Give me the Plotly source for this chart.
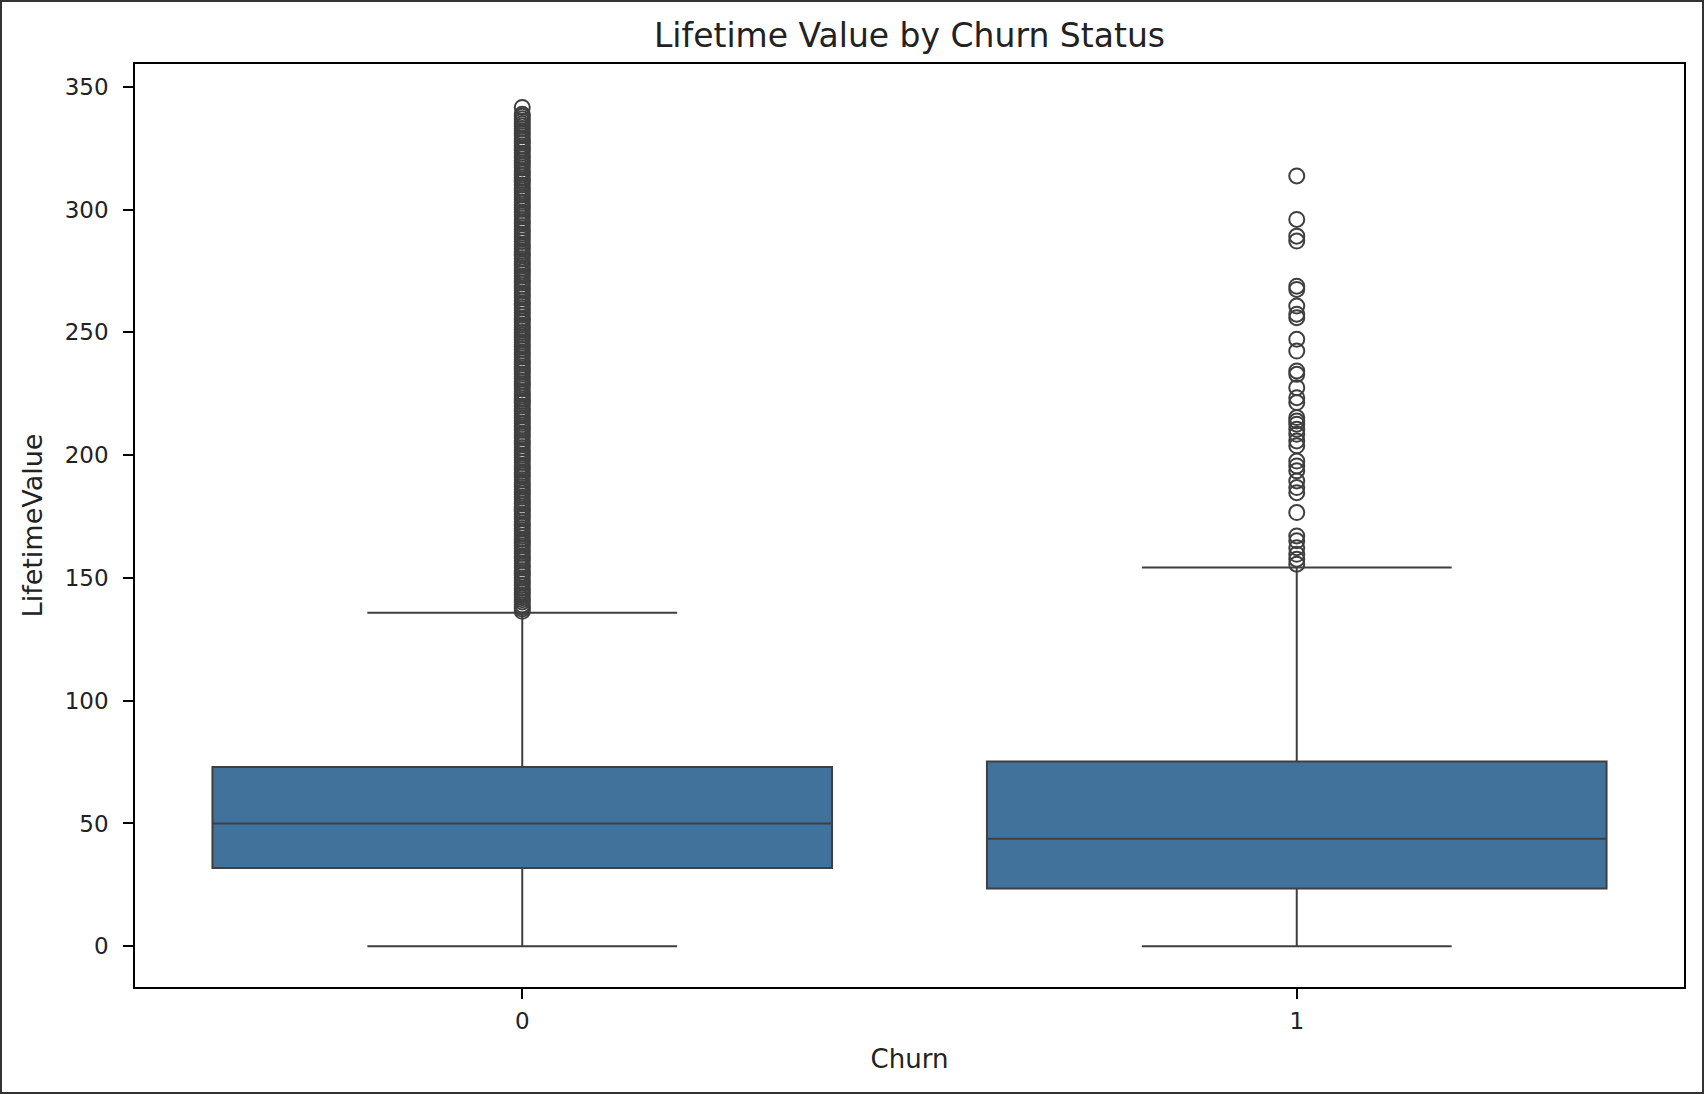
import plotly.graph_objects as go

# valeurs
churn = ["0", "1"]
q1 = [31.9, 23.5]
mediane = [50.0, 43.8]
q3 = [73.0, 75.2]
moustache_basse = [0.0, 0.0]
moustache_haute = [135.8, 154.2]

# points isolés (churn = 0 : colonne continue de 136 à 342)
outliers_0 = [136.4, 137.3, 138.1, 139.0, 140.2, 141.1, 141.9, 143.0, 144.1, 145.0,
              145.8, 147.0, 148.1, 148.9, 150.0, 151.2, 152.0, 152.9, 154.1, 155.0,
              155.9, 157.1, 158.0, 158.8, 160.0, 161.1, 162.0, 163.0, 164.1, 164.9,
              165.8, 167.0, 168.1, 169.0, 170.0, 171.1, 171.9, 173.0, 174.2, 175.0,
              175.9, 177.1, 178.0, 178.9, 180.1, 181.0, 181.9, 183.0, 184.1, 185.0,
              186.0, 187.1, 188.0, 188.9, 190.0, 191.2, 192.0, 192.9, 194.1, 195.0,
              195.8, 197.0, 198.1, 199.0, 200.0, 201.1, 201.9, 203.0, 204.2, 205.0,
              205.9, 207.1, 208.0, 208.9, 210.1, 211.0, 211.9, 213.0, 214.1, 215.0,
              216.0, 217.1, 218.0, 218.9, 220.0, 221.2, 222.0, 222.9, 224.1, 225.0,
              225.8, 227.0, 228.1, 229.0, 230.0, 231.1, 231.9, 233.0, 234.2, 235.0,
              235.9, 237.1, 238.0, 238.9, 240.1, 241.0, 241.9, 243.0, 244.1, 245.0,
              246.0, 247.1, 248.0, 248.9, 250.0, 251.2, 252.0, 252.9, 254.1, 255.0,
              255.8, 257.0, 258.1, 259.0, 260.0, 261.1, 261.9, 263.0, 264.2, 265.0,
              265.9, 267.1, 268.0, 268.9, 270.1, 271.0, 271.9, 273.0, 274.1, 275.0,
              276.0, 277.1, 278.0, 278.9, 280.0, 281.2, 282.0, 282.9, 284.1, 285.0,
              285.8, 287.0, 288.1, 289.0, 290.0, 291.1, 291.9, 293.0, 294.2, 295.0,
              295.9, 297.1, 298.0, 298.9, 300.1, 301.0, 301.9, 303.0, 304.1, 305.0,
              306.0, 307.1, 308.0, 308.9, 310.0, 311.2, 312.0, 312.9, 314.1, 315.0,
              315.8, 317.0, 318.1, 319.0, 320.0, 321.1, 321.9, 323.0, 324.2, 325.0,
              325.9, 327.1, 328.0, 328.9, 330.1, 331.0, 331.9, 333.0, 334.1, 335.0,
              336.0, 337.0, 338.0, 338.8, 341.6]
outliers_1 = [313.7, 296.0, 289.2, 287.2, 268.8, 267.5, 260.7, 257.4, 256.0, 247.2, 242.4,
              234.3, 232.9, 227.5, 223.4, 221.4, 215.3, 213.9, 212.6, 210.5, 208.5, 205.8,
              203.8, 197.6, 195.6, 193.6, 189.5, 186.8, 184.7, 176.6, 167.1, 165.1, 162.3,
              159.6, 157.6, 155.6]

couleur_boite = "#41729c"
couleur_trait = "#3f3f3f"

fig = go.Figure()

fig.add_trace(go.Box(
    x=churn, q1=q1, median=mediane, q3=q3,
    lowerfence=moustache_basse, upperfence=moustache_haute,
    width=0.8, whiskerwidth=0.5, boxpoints=False,
    fillcolor=couleur_boite, line=dict(color=couleur_trait, width=2),
    hoverinfo="skip", showlegend=False,
))

fig.add_trace(go.Scatter(
    x=["0"] * len(outliers_0) + ["1"] * len(outliers_1),
    y=outliers_0 + outliers_1,
    mode="markers",
    marker=dict(symbol="circle", size=15, color="rgba(0,0,0,0)",
                line=dict(color=couleur_trait, width=2)),
    hoverinfo="skip", showlegend=False,
))

W, H = 1704, 1094
ml, mr, mt, mb = 135, 20, 64, 107
pw, ph = W - ml - mr, H - mt - mb

axe = dict(showline=True, linecolor="black", linewidth=1.5, mirror=True,
           ticks="outside", ticklen=10, tickwidth=1.5, tickcolor="black",
           showgrid=False, zeroline=False,
           tickfont=dict(size=23, color="#222"))

fig.update_layout(
    width=W, height=H,
    margin=dict(l=ml, r=mr, t=mt, b=mb),
    paper_bgcolor="white", plot_bgcolor="white",
    font=dict(family="DejaVu Sans", color="#222"),
    title=dict(text="Lifetime Value by Churn Status", x=(ml + pw / 2) / W,
               xanchor="center", y=1 - 35 / H, yanchor="middle",
               font=dict(size=33, color="#222")),
    xaxis=dict(axe, type="category", range=[-0.5, 1.5], ticklabelstandoff=3,
               title=dict(text="Churn", font=dict(size=26), standoff=16)),
    yaxis=dict(axe, range=[-16.6, 359.3], tickvals=[0, 50, 100, 150, 200, 250, 300, 350],
               ticklabelstandoff=10,
               title=dict(text="LifetimeValue", font=dict(size=27), standoff=14)),
    shapes=[dict(type="rect", xref="paper", yref="paper",
                 x0=-ml / pw, x1=(pw + mr) / pw, y0=-mb / ph, y1=(ph + mt) / ph,
                 line=dict(color="#333", width=4), layer="above")],
)

# marge du body à zéro pour que la figure remplisse la fenêtre
fig.write_html("out.html", config={"displayModeBar": False},
               post_script="document.body.style.margin='0';")
